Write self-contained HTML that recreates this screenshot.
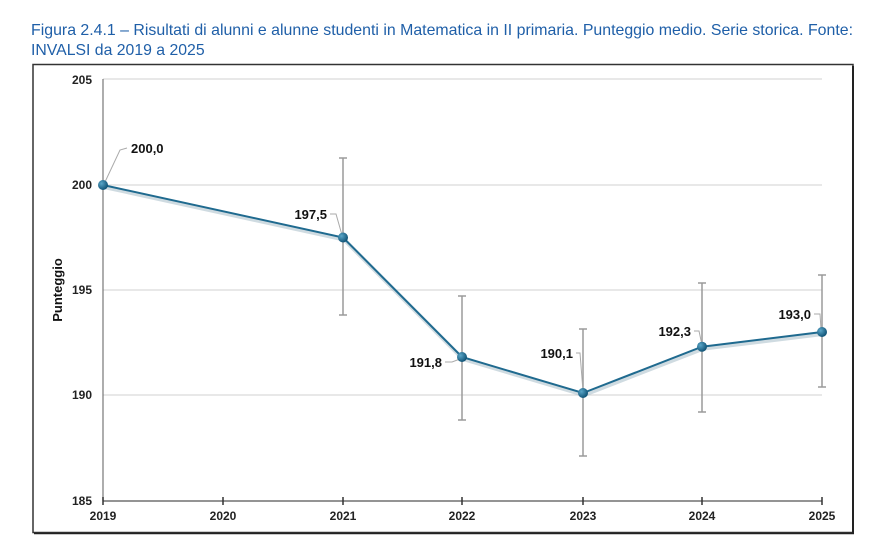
<!DOCTYPE html>
<html><head><meta charset="utf-8"><style>
body{margin:0;background:#fff;width:885px;height:547px;overflow:hidden}
svg{display:block}
text{font-family:"Liberation Sans",Arial,sans-serif}
</style></head><body>
<svg width="885" height="547" viewBox="0 0 885 547">
<defs>
<radialGradient id="g" cx="35%" cy="35%" r="70%"><stop offset="0" stop-color="#5aa6c8"/><stop offset="1" stop-color="#0c4f72"/></radialGradient>
</defs>
<text x="31" y="35" font-size="15.8" fill="#1f5fa8" textLength="822" lengthAdjust="spacingAndGlyphs">Figura 2.4.1 – Risultati di alunni e alunne studenti in Matematica in II primaria. Punteggio medio. Serie storica. Fonte:</text>
<text x="31" y="55" font-size="15.8" fill="#1f5fa8">INVALSI da 2019 a 2025</text>
<rect x="33" y="64.5" width="820" height="468" fill="#fff" stroke="#333" stroke-width="1.5"/>
<line x1="853" y1="66" x2="853" y2="534" stroke="#222" stroke-width="2"/>
<line x1="34" y1="533.5" x2="854" y2="533.5" stroke="#222" stroke-width="1.5"/>
<g stroke="#e0e0e0" stroke-width="1.5">
<line x1="103" y1="79" x2="822" y2="79"/><line x1="103" y1="185" x2="822" y2="185"/><line x1="103" y1="290" x2="822" y2="290"/><line x1="103" y1="395" x2="822" y2="395"/>
</g>
<line x1="103" y1="79" x2="103" y2="501" stroke="#777" stroke-width="1.2"/>
<line x1="103" y1="501" x2="822" y2="501" stroke="#555" stroke-width="1.2"/>
<g stroke="#333" stroke-width="1.5">
<line x1="103" y1="497" x2="103" y2="505"/><line x1="223" y1="497" x2="223" y2="505"/><line x1="343" y1="497" x2="343" y2="505"/><line x1="462" y1="497" x2="462" y2="505"/><line x1="583" y1="497" x2="583" y2="505"/><line x1="702" y1="497" x2="702" y2="505"/><line x1="822" y1="497" x2="822" y2="505"/>
</g>
<g font-size="12" font-weight="bold" fill="#222" text-anchor="end">
<text x="92" y="84">205</text><text x="92" y="189">200</text><text x="92" y="294">195</text><text x="92" y="399">190</text><text x="92" y="505">185</text>
</g>
<g font-size="12" font-weight="bold" fill="#222" text-anchor="middle">
<text x="103" y="520">2019</text><text x="223" y="520">2020</text><text x="343" y="520">2021</text><text x="462" y="520">2022</text><text x="583" y="520">2023</text><text x="702" y="520">2024</text><text x="822" y="520">2025</text>
</g>
<text transform="translate(62,290) rotate(-90)" font-size="13" font-weight="bold" fill="#111" text-anchor="middle">Punteggio</text>
<g stroke="#9a9a9a" stroke-width="1.5">
<line x1="343" y1="158" x2="343" y2="315"/><line x1="339" y1="158" x2="347" y2="158"/><line x1="339" y1="315" x2="347" y2="315"/>
<line x1="462" y1="296" x2="462" y2="420"/><line x1="458" y1="296" x2="466" y2="296"/><line x1="458" y1="420" x2="466" y2="420"/>
<line x1="583" y1="329" x2="583" y2="456"/><line x1="579" y1="329" x2="587" y2="329"/><line x1="579" y1="456" x2="587" y2="456"/>
<line x1="702" y1="283" x2="702" y2="412"/><line x1="698" y1="283" x2="706" y2="283"/><line x1="698" y1="412" x2="706" y2="412"/>
<line x1="822" y1="275" x2="822" y2="387"/><line x1="818" y1="275" x2="826" y2="275"/><line x1="818" y1="387" x2="826" y2="387"/>
</g>
<g stroke="#aaa" stroke-width="1" fill="none">
<polyline points="105,182 120,150 127,148"/>
<polyline points="330,214 336,214 342,235"/>
<polyline points="445,362 452,362 460,359"/>
<polyline points="576,353 580,353 583,391"/>
<polyline points="694,331 699,331 702,345"/>
<polyline points="814,314 820,314 821,329"/>
</g>
<polyline points="103,185 343,237.5 462,357 583,393 702,346.7 822,332" fill="none" stroke="#9fb7c4" stroke-width="4" opacity="0.5" transform="translate(1,2)"/>
<polyline points="103,185 343,237.5 462,357 583,393 702,346.7 822,332" fill="none" stroke="#1f6a8f" stroke-width="2"/>
<g fill="url(#g)">
<circle cx="103" cy="185" r="5"/><circle cx="343" cy="237.5" r="5"/><circle cx="462" cy="357" r="5"/><circle cx="583" cy="393" r="5"/><circle cx="702" cy="346.7" r="5"/><circle cx="822" cy="332" r="5"/>
</g>
<g font-size="13" font-weight="bold" fill="#111">
<text x="131" y="153">200,0</text>
<text x="327" y="219" text-anchor="end">197,5</text>
<text x="442" y="367" text-anchor="end">191,8</text>
<text x="573" y="358" text-anchor="end">190,1</text>
<text x="691" y="336" text-anchor="end">192,3</text>
<text x="811" y="319" text-anchor="end">193,0</text>
</g>
</svg>
</body></html>
